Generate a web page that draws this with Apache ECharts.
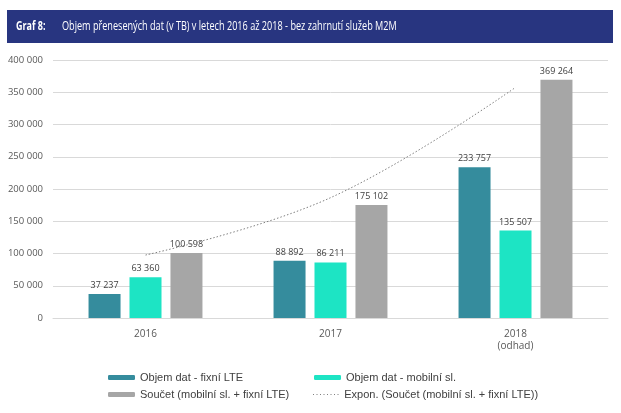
<!DOCTYPE html>
<html><head><meta charset="utf-8">
<script src="https://cdn.jsdelivr.net/npm/echarts@6/dist/echarts.min.js"></script>
<style>html,body{margin:0;padding:0;background:#fff}#c{width:621px;height:413px}</style>
</head><body><div id="c"></div>
<script>
const categories = ['2016', '2017', '2018\n(odhad)'];
const fixniLTE = [37237, 88892, 233757];
const mobilni = [63360, 86211, 135507];
const soucet = [100598, 175102, 369264];
const trend = [97600, 186500, 357500];
const yTicks = [0, 50000, 100000, 150000, 200000, 250000, 300000, 350000, 400000];
const names = ['Objem dat - fixní LTE', 'Objem dat - mobilní sl.', 'Součet (mobilní sl. + fixní LTE)', 'Expon. (Součet (mobilní sl. + fixní LTE))'];

const fmt = v => String(v).replace(/\B(?=(\d{3})+(?!\d))/g, ' ');
const chart = echarts.init(document.getElementById('c'), null, {renderer: 'canvas'});
const lbl = {show: true, position: 'top', distance: 4, color: '#404040', fontSize: 9, fontFamily: 'Open Sans', formatter: p => fmt(p.value)};
const legText = {color: '#404040', fontSize: 11, fontFamily: 'Liberation Sans'};
const dots = 'path://M0 0h1v1h-1zM3.5 0h1v1h-1zM7 0h1v1h-1zM10.5 0h1v1h-1zM14 0h1v1h-1zM17.5 0h1v1h-1zM21 0h1v1h-1zM24.5 0h1v1h-1z';
const leg = (name, left, top, h, icon) => ({
  data: [icon ? {name: name, icon: icon} : name], left: left, top: top, padding: 0,
  itemWidth: 27, itemHeight: h, textStyle: legText, itemStyle: {borderWidth: 0}
});
chart.setOption({
  animation: false,
  graphic: [
    {type: 'rect', shape: {x: 7, y: 10, width: 606, height: 33}, style: {fill: '#283580'}},
    {type: 'text', x: 16, y: 27, scaleX: 0.75, style: {text: 'Graf 8:', fill: '#fff', font: 'bold 12px "Open Sans"', textVerticalAlign: 'middle'}},
    {type: 'text', x: 62, y: 27, scaleX: 0.76, style: {text: 'Objem přenesených dat (v TB) v letech 2016 až 2018 - bez zahrnutí služeb M2M', fill: '#fff', font: '12px "Open Sans"', textVerticalAlign: 'middle'}}
  ],
  grid: {left: 53, right: 13, top: 60, bottom: 95},
  legend: [
    leg(names[0], 108, 372, 5),
    leg(names[2], 108, 389, 5),
    leg(names[1], 314, 372, 5),
    leg(names[3], 313, 389, 1, dots)
  ],
  xAxis: {type: 'category', data: categories,
    axisLine: {lineStyle: {color: '#d9d9d9'}}, axisTick: {show: false},
    axisLabel: {color: '#595959', fontSize: 10, fontFamily: 'Open Sans', margin: 10, lineHeight: 12}},
  yAxis: {type: 'value', min: 0, max: 400000, interval: 50000,
    axisLine: {show: false}, axisTick: {show: false},
    splitLine: {lineStyle: {color: '#d9d9d9'}},
    axisLabel: {color: '#595959', fontSize: 9.5, fontFamily: 'Open Sans', margin: 10, formatter: v => fmt(v)}},
  series: [
    {name: names[0], type: 'bar', data: fixniLTE, barWidth: 32, barGap: '28%', itemStyle: {color: '#358c9d'}, label: lbl},
    {name: names[1], type: 'bar', data: mobilni, barWidth: 32, barGap: '28%', itemStyle: {color: '#1de4c4'}, label: lbl},
    {name: names[2], type: 'bar', data: soucet, barWidth: 32, barGap: '28%', itemStyle: {color: '#a6a6a6'}, label: lbl},
    {name: names[3], type: 'line', data: trend, smooth: 0.4, symbol: 'none', z: 5,
      lineStyle: {color: '#7f7f7f', width: 1, type: [1.5, 2]}, itemStyle: {color: '#7f7f7f'}}
  ]
});
</script></body></html>
